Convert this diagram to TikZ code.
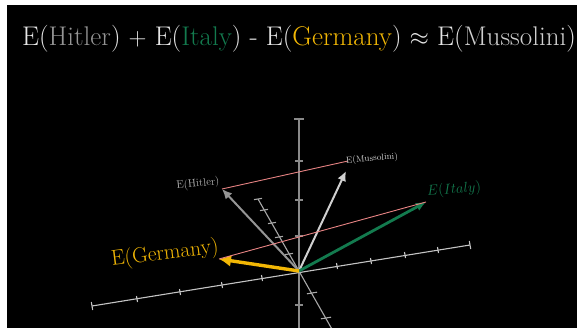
\documentclass[tikz,border=0pt]{standalone}
\usetikzlibrary{arrows.meta}
\definecolor{hitlergray}{HTML}{959595}
\definecolor{mussogray}{HTML}{D0D0D0}
\definecolor{italygreen}{HTML}{137A4E}
\definecolor{germanygold}{HTML}{F2B705}
\definecolor{diffpink}{HTML}{E88484}
\definecolor{vaxis}{HTML}{8A8A8A}
\definecolor{haxis}{HTML}{C4C4C4}
\definecolor{daxis}{HTML}{A8A8A8}
\definecolor{titlewhite}{HTML}{E6E6E6}

\begin{document}
\begin{tikzpicture}[x=1pt,y=-1pt,>={Latex[length=10pt,width=9pt]},
  vec/.style={->,line width=2pt},
  lbl/.style={inner sep=0pt}]
  \useasboundingbox (0,0) rectangle (577,328);
  \fill[black] (7,5) rectangle (577,328);

  % title
  \node[lbl,anchor=base west,titlewhite,font=\fontsize{27}{30}\selectfont] (title) at (22,46)
    {E(\textcolor{hitlergray}{Hitler}) $+$ E(\textcolor{italygreen}{Italy}) - E(\textcolor{germanygold}{Germany}) $\approx$ E(\textcolor{mussogray}{Mussolini})};

  % axes
  \coordinate (O) at (299,271);
  \draw[vaxis,line width=1.8pt] (299,119) -- (299,330);
  \draw[vaxis,line width=1.2pt] (294,119) -- (304,119);
  \draw[vaxis,line width=1.2pt] (295,161) -- (303,161);
  \draw[vaxis,line width=1.2pt] (295,200) -- (303,200);
  \draw[vaxis,line width=1.2pt] (295,236) -- (303,236);
  \draw[vaxis,line width=1.2pt] (295,305) -- (303,305);

  \draw[haxis,line width=1.1pt] (92,306) -- (470,245);
  \draw[haxis,line width=1.1pt] (92,306) +(-0.7,-4) -- +(0.7,4);
  \draw[haxis,line width=1.1pt] (137,299) +(-0.5,-3) -- +(0.5,3);
  \draw[haxis,line width=1.1pt] (180,292) +(-0.5,-3) -- +(0.5,3);
  \draw[haxis,line width=1.1pt] (222,285) +(-0.5,-3) -- +(0.5,3);
  \draw[haxis,line width=1.1pt] (262,278) +(-0.5,-3) -- +(0.5,3);
  \draw[haxis,line width=1.1pt] (337,266) +(-0.5,-3) -- +(0.5,3);
  \draw[haxis,line width=1.1pt] (371,261) +(-0.5,-3) -- +(0.5,3);
  \draw[haxis,line width=1.1pt] (405,255) +(-0.5,-3) -- +(0.5,3);
  \draw[haxis,line width=1.1pt] (438,250) +(-0.5,-3) -- +(0.5,3);
  \draw[haxis,line width=1.1pt] (470,245) +(-0.7,-4) -- +(0.7,4);

  \draw[daxis,line width=1.1pt] (258,199) -- (333,331);
  \draw[daxis,line width=1.1pt] (258,199) +(-4,0.6) -- +(4,-0.6);
  \draw[daxis,line width=1.1pt] (264,210) +(-4,0.6) -- +(4,-0.6);
  \draw[daxis,line width=1.1pt] (272,223) +(-4,0.6) -- +(4,-0.6);
  \draw[daxis,line width=1.1pt] (279,237) +(-4,0.6) -- +(4,-0.6);
  \draw[daxis,line width=1.1pt] (289,254) +(-4,0.6) -- +(4,-0.6);
  \draw[daxis,line width=1.1pt] (312,293) +(-5,0.8) -- +(5,-0.8);
  \draw[daxis,line width=1.1pt] (326,318) +(-5,0.8) -- +(5,-0.8);

  % vectors
  \coordinate (hitler) at (222,189);
  \coordinate (musso) at (346,171);
  \coordinate (italy) at (426,202);
  \coordinate (germany) at (219,259);
  \coordinate (sum) at (348,161);
  \draw[vec,hitlergray] (O) -- (hitler);
  \draw[vec,mussogray] (O) -- (musso);
  \draw[vec,italygreen,line width=2.8pt] (O) -- (italy);
  \draw[vec,germanygold,line width=3.4pt,>={Latex[length=12pt,width=12pt]}] (O) -- (germany);
  \draw[diffpink,line width=0.9pt] (hitler) -- (sum);
  \draw[diffpink,line width=0.9pt] (germany) -- (italy);

  % labels
  \node[lbl,rotate=6,color=hitlergray!70!white,font=\fontsize{11}{12}\selectfont] (hitlerlbl) at (198,184) {E(Hitler)};
  \node[lbl,rotate=5,color=mussogray,font=\fontsize{9}{11}\selectfont,anchor=west] (mussolbl) at (346,161) {E(Mussolini)};
  \node[lbl,rotate=5,color=italygreen,font=\fontsize{13.5}{15}\selectfont] (italylbl) at (454,190) {$E(Italy)$};
  \node[lbl,rotate=7,color=germanygold,font=\fontsize{21.5}{24}\selectfont] (germanylbl) at (165,254) {E(Germany)};
\end{tikzpicture}
\end{document}
